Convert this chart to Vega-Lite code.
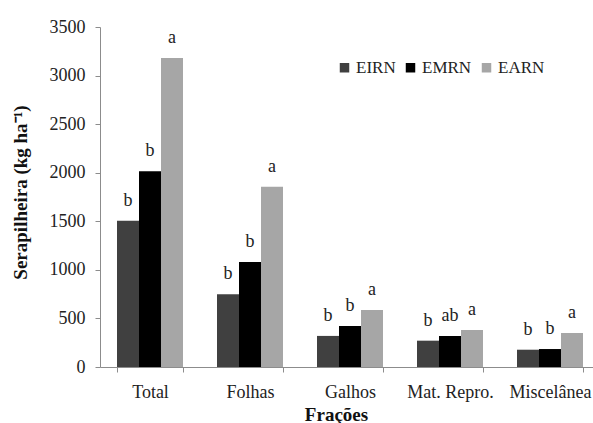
{
  "$schema": "https://vega.github.io/schema/vega-lite/v6.json",
  "width": 500,
  "height": 340,
  "autosize": "none",
  "padding": {"left": 100, "top": 27, "right": 0, "bottom": 56},
  "background": "white",
  "data": {
    "values": [
      {"fracao": "Total", "area": "EIRN", "valor": 1505, "letra": "b"},
      {"fracao": "Total", "area": "EMRN", "valor": 2015, "letra": "b"},
      {"fracao": "Total", "area": "EARN", "valor": 3180, "letra": "a"},
      {"fracao": "Folhas", "area": "EIRN", "valor": 750, "letra": "b"},
      {"fracao": "Folhas", "area": "EMRN", "valor": 1080, "letra": "b"},
      {"fracao": "Folhas", "area": "EARN", "valor": 1855, "letra": "a"},
      {"fracao": "Galhos", "area": "EIRN", "valor": 320, "letra": "b"},
      {"fracao": "Galhos", "area": "EMRN", "valor": 422, "letra": "b"},
      {"fracao": "Galhos", "area": "EARN", "valor": 587, "letra": "a"},
      {"fracao": "Mat. Repro.", "area": "EIRN", "valor": 271, "letra": "b"},
      {"fracao": "Mat. Repro.", "area": "EMRN", "valor": 319, "letra": "ab"},
      {"fracao": "Mat. Repro.", "area": "EARN", "valor": 381, "letra": "a"},
      {"fracao": "Miscelânea", "area": "EIRN", "valor": 178, "letra": "b"},
      {"fracao": "Miscelânea", "area": "EMRN", "valor": 185, "letra": "b"},
      {"fracao": "Miscelânea", "area": "EARN", "valor": 350, "letra": "a"}
    ]
  },
  "encoding": {
    "x": {
      "field": "fracao",
      "type": "nominal",
      "sort": ["Total", "Folhas", "Galhos", "Mat. Repro.", "Miscelânea"],
      "scale": {"paddingInner": 0.34, "paddingOuter": 0.17},
      "axis": {
        "title": "Frações",
        "labelAngle": 0,
        "tickBand": "extent",
        "tickSize": 5,
        "labelPadding": 11,
        "titleX": 236,
        "titleY": 38,
        "titleBaseline": "top",
        "titleAlign": "center"
      }
    },
    "xOffset": {
      "field": "area",
      "type": "nominal",
      "sort": ["EIRN", "EMRN", "EARN"]
    },
    "y": {
      "field": "valor",
      "type": "quantitative",
      "scale": {"domain": [0, 3500], "nice": false},
      "axis": {
        "title": "Serapilheira (kg ha⁻¹)",
        "values": [0, 500, 1000, 1500, 2000, 2500, 3000, 3500],
        "format": "d",
        "tickSize": 5,
        "labelPadding": 10,
        "titleX": -80,
        "titleY": 165,
        "titleBaseline": "middle",
        "titleAlign": "center"
      }
    }
  },
  "layer": [
    {
      "mark": {"type": "bar"},
      "encoding": {
        "color": {
          "field": "area",
          "type": "nominal",
          "sort": ["EIRN", "EMRN", "EARN"],
          "scale": {"domain": ["EIRN", "EMRN", "EARN"], "range": ["#404040", "#000000", "#a6a6a6"]},
          "legend": {
            "title": null,
            "orient": "none",
            "direction": "horizontal",
            "legendX": 236,
            "legendY": 32,
            "symbolType": "square",
            "symbolSize": 90,
            "symbolStrokeWidth": 0,
            "labelFontSize": 17,
            "labelFont": "Liberation Serif",
            "labelColor": "#222222",
            "labelOffset": 3,
            "columnPadding": 6
          }
        }
      }
    },
    {
      "mark": {"type": "text", "baseline": "bottom", "dy": -11, "fontSize": 18, "font": "Liberation Serif", "color": "#222222"},
      "encoding": {
        "text": {"field": "letra"}
      }
    }
  ],
  "config": {
    "font": "Liberation Serif",
    "view": {"stroke": null},
    "axis": {
      "grid": false,
      "domainColor": "#8c8c8c",
      "tickColor": "#8c8c8c",
      "labelFont": "Liberation Serif",
      "labelFontSize": 18,
      "labelColor": "#222222",
      "titleFont": "Liberation Serif",
      "titleFontSize": 19,
      "titleFontWeight": "bold",
      "titleColor": "#111111"
    }
  }
}
